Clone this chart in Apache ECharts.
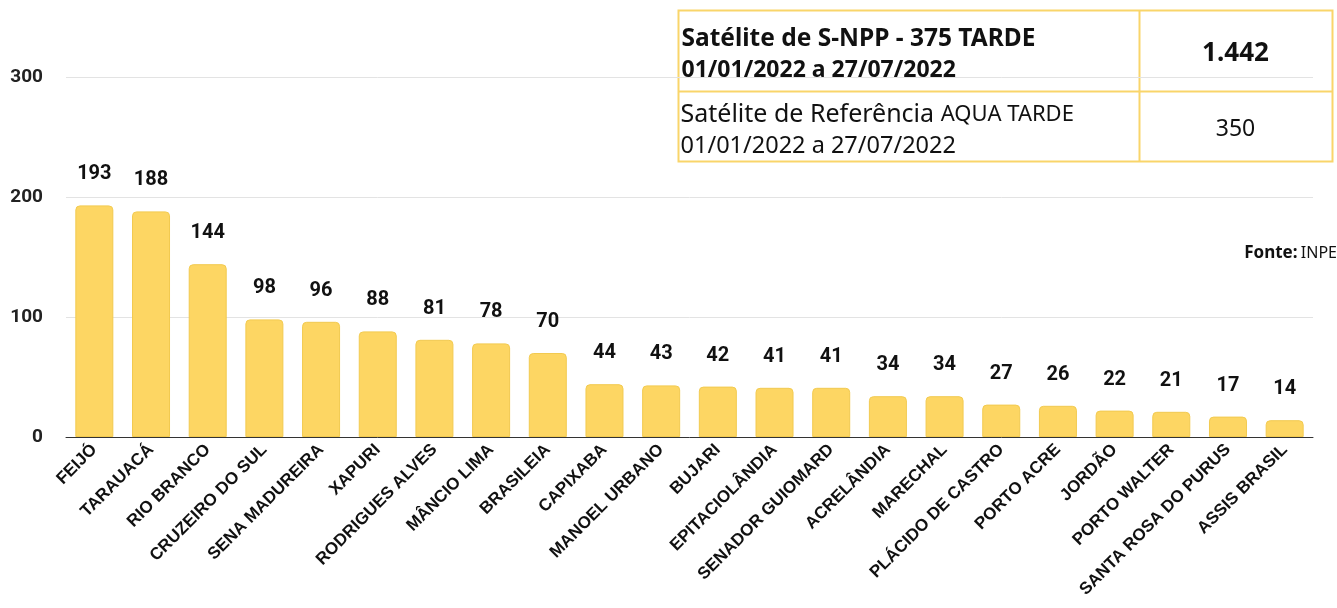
<!DOCTYPE html>
<html>
<head>
<meta charset="utf-8">
<script src="https://cdn.jsdelivr.net/npm/echarts@6/dist/echarts.min.js"></script>
<style>
  html, body { margin: 0; padding: 0; background: #fff; }
  #chart { width: 1337px; height: 608px; }
</style>
</head>
<body>
<div id="chart"></div>
<script>
// municípios e focos de queimada
const cidades = ['FEIJÓ', 'TARAUACÁ', 'RIO BRANCO', 'CRUZEIRO DO SUL', 'SENA MADUREIRA', 'XAPURI',
  'RODRIGUES ALVES', 'MÂNCIO LIMA', 'BRASILEIA', 'CAPIXABA', 'MANOEL URBANO', 'BUJARI',
  'EPITACIOLÂNDIA', 'SENADOR GUIOMARD', 'ACRELÂNDIA', 'MARECHAL', 'PLÁCIDO DE CASTRO',
  'PORTO ACRE', 'JORDÃO', 'PORTO WALTER', 'SANTA ROSA DO PURUS', 'ASSIS BRASIL']
const focos = [193, 188, 144, 98, 96, 88, 81, 78, 70, 44, 43, 42, 41, 41, 34, 34, 27, 26, 22, 21, 17, 14]
const yTicks = [0, 100, 200, 300]

// tabela do canto
const linha1 = ['Satélite de S-NPP - 375 TARDE', '01/01/2022 a 27/07/2022']
const total1 = '1.442'
const linha2 = ['Satélite de Referência', 'AQUA TARDE', '01/01/2022 a 27/07/2022']
const total2 = '350'

const amarelo = '#FDD663'
const borda = '#F9D56A'

const chart = echarts.init(document.getElementById('chart'))

const option = {
  animation: false,
  grid: { left: 66, right: 24, top: 77, bottom: 171 },
  xAxis: {
    type: 'category',
    data: cidades,
    axisTick: { show: false },
    axisLine: { lineStyle: { color: '#333', width: 1 } },
    axisLabel: {
      rotate: 45,
      interval: 0,
      margin: 10,
      color: '#111',
      fontFamily: 'Liberation Sans',
      fontWeight: 'bold',
      fontSize: 17
    }
  },
  yAxis: {
    type: 'value',
    min: yTicks[0],
    max: yTicks[yTicks.length - 1],
    interval: 100,
    axisLine: { show: false },
    axisTick: { show: false },
    splitLine: { lineStyle: { color: '#e3e3e3' } },
    axisLabel: {
      margin: 23,
      color: '#222',
      fontFamily: 'Roboto',
      fontWeight: 'bold',
      fontSize: 19
    }
  },
  series: [{
    type: 'bar',
    data: focos,
    barWidth: 38,
    itemStyle: {
      color: amarelo,
      borderColor: '#F2CA50',
      borderWidth: 1,
      borderRadius: [4, 4, 0, 0]
    },
    label: {
      show: true,
      position: 'top',
      distance: 21,
      color: '#111',
      fontFamily: 'Roboto',
      fontWeight: 'bold',
      fontSize: 20
    }
  }],
  graphic: [
    {
      type: 'group',
      left: 676,
      top: 8,
      z: 100,
      children: [
        { type: 'rect', shape: { x: 0, y: 0, width: 654, height: 151 }, style: { fill: '#fff', stroke: borda, lineWidth: 2 } },
        { type: 'line', shape: { x1: 0, y1: 81, x2: 654, y2: 81 }, style: { stroke: borda, lineWidth: 2 } },
        { type: 'line', shape: { x1: 461, y1: 0, x2: 461, y2: 151 }, style: { stroke: borda, lineWidth: 2 } },
        { type: 'text', x: 3, y: 29, style: { text: linha1[0], font: 'bold 24.5px "Noto Sans"', fill: '#111', verticalAlign: 'middle' } },
        { type: 'text', x: 3, y: 60, style: { text: linha1[1], font: 'bold 23px "Noto Sans"', fill: '#111', verticalAlign: 'middle' } },
        { type: 'text', x: 557, y: 43, style: { text: total1, font: 'bold 26px "Noto Sans"', fill: '#111', align: 'center', verticalAlign: 'middle' } },
        {
          type: 'text', x: 2, y: 104,
          style: {
            text: '{a|' + linha2[0] + '}  {b|' + linha2[1] + '}',
            verticalAlign: 'middle',
            rich: {
              a: { font: '25px "Noto Sans"', fill: '#111' },
              b: { font: '22px "Noto Sans"', fill: '#111' }
            }
          }
        },
        { type: 'text', x: 2, y: 136, style: { text: linha2[2], font: '23.5px "Noto Sans"', fill: '#111', verticalAlign: 'middle' } },
        { type: 'text', x: 557, y: 119, style: { text: total2, font: '23px "Noto Sans"', fill: '#111', align: 'center', verticalAlign: 'middle' } }
      ]
    },
    {
      type: 'text',
      right: 0,
      top: 245,
      style: {
        text: '{b|Fonte:} {n|INPE}',
        rich: {
          b: { font: 'bold 17px "Noto Sans"', fill: '#111' },
          n: { font: '16px "Noto Sans"', fill: '#111' }
        }
      }
    }
  ]
}

chart.setOption(option)
</script>
</body>
</html>
